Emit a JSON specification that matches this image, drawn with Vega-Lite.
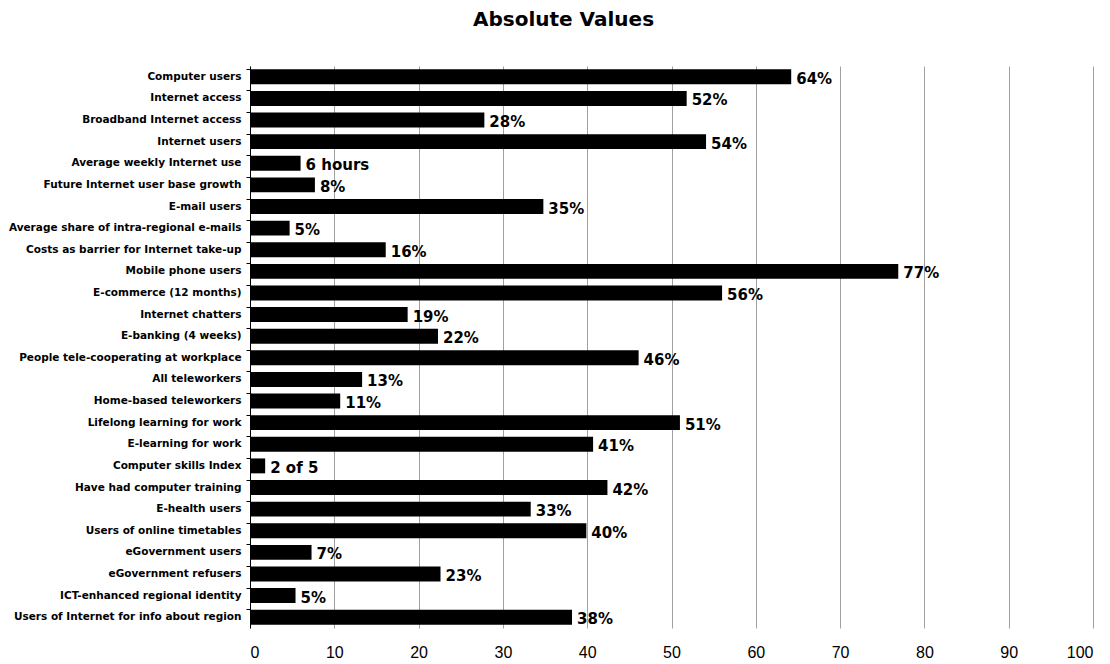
{
  "$schema": "https://vega.github.io/schema/vega-lite/v6.json",
  "autosize": "none",
  "width": 843,
  "height": 562,
  "padding": {"left": 250, "top": 66, "right": 17, "bottom": 36},
  "background": "white",
  "title": {
    "text": "Absolute Values",
    "font": "DejaVu Sans",
    "fontSize": 20,
    "fontWeight": "bold",
    "color": "#000000",
    "anchor": "middle",
    "frame": "group",
    "dx": -108,
    "offset": 36
  },
  "config": {
    "view": {"stroke": null},
    "axis": {"labelColor": "#000000"}
  },
  "data": {
    "values": [
      {"indicator": "Computer users", "value": 64.2, "label": "64%"},
      {"indicator": "Internet access", "value": 51.8, "label": "52%"},
      {"indicator": "Broadband Internet access", "value": 27.8, "label": "28%"},
      {"indicator": "Internet users", "value": 54.1, "label": "54%"},
      {"indicator": "Average weekly Internet use", "value": 6.0, "label": "6 hours"},
      {"indicator": "Future Internet user base growth", "value": 7.7, "label": "8%"},
      {"indicator": "E-mail users", "value": 34.8, "label": "35%"},
      {"indicator": "Average share of intra-regional e-mails", "value": 4.7, "label": "5%"},
      {"indicator": "Costs as barrier for Internet take-up", "value": 16.1, "label": "16%"},
      {"indicator": "Mobile phone users", "value": 76.9, "label": "77%"},
      {"indicator": "E-commerce (12 months)", "value": 56.0, "label": "56%"},
      {"indicator": "Internet chatters", "value": 18.7, "label": "19%"},
      {"indicator": "E-banking (4 weeks)", "value": 22.3, "label": "22%"},
      {"indicator": "People tele-cooperating at workplace", "value": 46.1, "label": "46%"},
      {"indicator": "All teleworkers", "value": 13.3, "label": "13%"},
      {"indicator": "Home-based teleworkers", "value": 10.7, "label": "11%"},
      {"indicator": "Lifelong learning for work", "value": 51.0, "label": "51%"},
      {"indicator": "E-learning for work", "value": 40.7, "label": "41%"},
      {"indicator": "Computer skills Index", "value": 1.8, "label": "2 of 5"},
      {"indicator": "Have had computer training", "value": 42.4, "label": "42%"},
      {"indicator": "E-health users", "value": 33.3, "label": "33%"},
      {"indicator": "Users of online timetables", "value": 39.9, "label": "40%"},
      {"indicator": "eGovernment users", "value": 7.3, "label": "7%"},
      {"indicator": "eGovernment refusers", "value": 22.6, "label": "23%"},
      {"indicator": "ICT-enhanced regional identity", "value": 5.4, "label": "5%"},
      {"indicator": "Users of Internet for info about region", "value": 38.2, "label": "38%"}
    ]
  },
  "encoding": {
    "y": {
      "field": "indicator",
      "type": "nominal",
      "sort": null,
      "scale": {"paddingInner": 0.31, "paddingOuter": 0.155}
    },
    "x": {
      "field": "value",
      "type": "quantitative",
      "scale": {"domain": [0, 100], "nice": false}
    }
  },
  "layer": [
    {
      "mark": {"type": "bar", "color": "#000000"},
      "encoding": {
        "y": {
          "field": "indicator",
          "type": "nominal",
          "sort": null,
          "title": null,
          "axis": {
            "labelFont": "DejaVu Sans",
            "labelFontSize": 10.5,
            "labelFontWeight": "bold",
            "labelPadding": 9,
            "labelLimit": 300,
            "ticks": false,
            "domain": true,
            "domainColor": "#000000",
            "domainWidth": 1
          }
        },
        "x": {
          "field": "value",
          "type": "quantitative",
          "title": null,
          "axis": {
            "values": [0, 10, 20, 30, 40, 50, 60, 70, 80, 90, 100],
            "labelFont": "Liberation Sans",
            "labelFontSize": 16,
            "labelPadding": 16,
            "ticks": false,
            "domain": false,
            "grid": true,
            "gridColor": "#a0a0a0",
            "gridWidth": 1
          }
        }
      }
    },
    {
      "mark": {
        "type": "text",
        "align": "left",
        "baseline": "middle",
        "dx": 5,
        "dy": 2,
        "font": "DejaVu Sans",
        "fontSize": 15,
        "fontWeight": "bold",
        "color": "#000000"
      },
      "encoding": {
        "text": {"field": "label"},
        "y": {
          "field": "indicator",
          "type": "nominal",
          "sort": null,
          "title": null,
          "axis": {
            "orient": "left",
            "bandPosition": 0,
            "labels": false,
            "domain": false,
            "ticks": true,
            "tickSize": 4,
            "tickColor": "#000000",
            "grid": false
          }
        }
      }
    }
  ],
  "resolve": {"axis": {"y": "independent"}}
}
